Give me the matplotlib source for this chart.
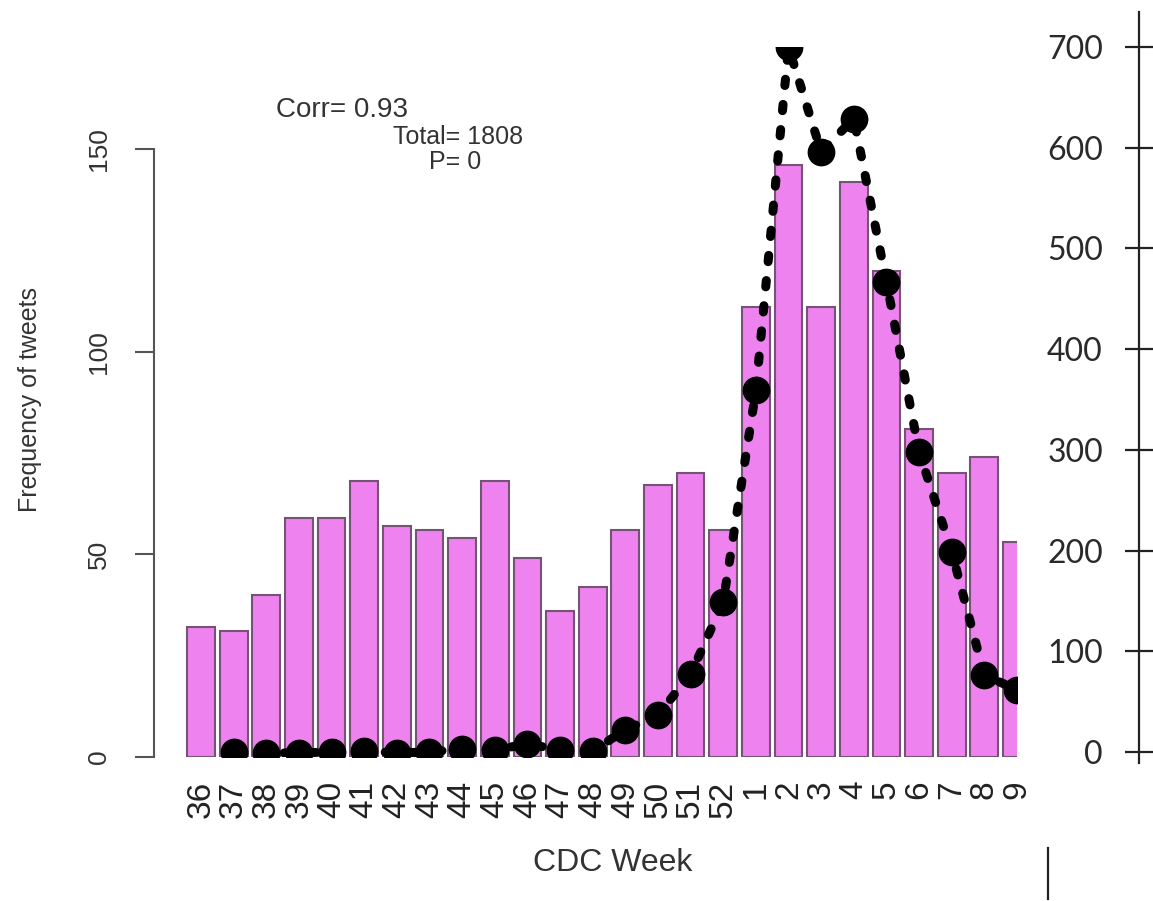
import numpy as np
import matplotlib
matplotlib.use("Agg")
import matplotlib.pyplot as plt
from matplotlib.lines import Line2D

# CDC weeks (season 36 .. 9)
weeks = ['36', '37', '38', '39', '40', '41', '42', '43', '44', '45', '46', '47', '48',
         '49', '50', '51', '52', '1', '2', '3', '4', '5', '6', '7', '8', '9']
# tweets per week (bars, left axis)
tweets = [32, 31, 40, 59, 59, 68, 57, 56, 54, 68, 49, 36, 42,
          56, 67, 70, 56, 111, 146, 111, 142, 120, 81, 70, 74, 53]
# CDC cases per week (dotted line, right axis)
cases = [np.nan, 0, -1, -1, 0, 1, -1, 0, 3, 2, 8, 2, 1,
         22, 37, 77, 149, 359, 700, 596, 629, 467, 298, 199, 76, 62]

left_ticks = [0, 50, 100, 150]
right_ticks = [0, 100, 200, 300, 400, 500, 600, 700]

W, H = 1153, 901
fig = plt.figure(figsize=(W / 100, H / 100), dpi=100)
fig.patch.set_facecolor('white')

# axes box in pixels
x0, x1, y0, y1 = 154, 1017, 757, 47
ax = fig.add_axes([x0 / W, 1 - y0 / H, (x1 - x0) / W, (y0 - y1) / H])
ax.patch.set_alpha(0)

rfont = ['Liberation Sans', 'DejaVu Sans']
idx = np.arange(len(weeks))

ax.bar(idx, tweets, width=0.85, color='#EE82EE', edgecolor='#745474', linewidth=1.5, zorder=2)
ax.set_xlim(-1.44, 24.71)
ax.set_ylim(0, 175.2)

for s in ['top', 'right', 'bottom']:
    ax.spines[s].set_visible(False)
ax.spines['left'].set_bounds(0, 150)
ax.spines['left'].set_color('#555555')
ax.spines['left'].set_linewidth(1.5)

ax.set_yticks(left_ticks)
ax.set_yticklabels([str(v) for v in left_ticks], rotation=90, va='center',
                   family=rfont, fontsize=19, color='#333333')
ax.tick_params(axis='y', length=13.7, width=1.5, color='#555555', pad=17)

ax.set_xticks(idx)
ax.set_xticklabels(weeks, rotation=90, va='top', ha='center',
                   family=rfont, fontsize=24, color='#222222')
ax.tick_params(axis='x', length=0, pad=17)

# case counts on second scale
ax2 = ax.twinx()
ax2.set_ylim(-5, 700.1)
ax2.plot(idx, cases, color='black', linewidth=6.5, linestyle=(0, (0.7, 2.1)),
         dash_capstyle='round', marker='o', markersize=19, zorder=3)
for s in ['top', 'right', 'bottom']:
    ax2.spines[s].set_visible(False)
ax2.yaxis.tick_left()
ax2.spines['left'].set_position(('axes', (1139 - x0) / (x1 - x0)))
ax2.spines['left'].set_bounds(-11, 735)
ax2.spines['left'].set_linewidth(1.6)
ax2.spines['left'].set_color('#222222')
ax2.set_yticks(right_ticks)
ax2.set_yticklabels([str(v) for v in right_ticks], family=['Lato', 'DejaVu Sans'],
                    fontsize=23, color='#2a2a2a')
ax2.tick_params(axis='y', direction='inout', length=20, width=1.6, color='#222222', pad=16)

# labels and annotations
fig.text(30 / W, 1 - 400 / H, 'Frequency of tweets', rotation=90, ha='center', va='center',
         family=rfont, fontsize=18, color='#333333')
fig.text(613 / W, 1 - 863 / H, 'CDC Week', ha='center', va='center',
         family=rfont, fontsize=23, color='#333333')
fig.text(342 / W, 1 - 117 / H, 'Corr= 0.93', ha='center', va='baseline',
         family=rfont, fontsize=20, color='#333333')
fig.text(458 / W, 1 - 144 / H, 'Total= 1808', ha='center', va='baseline',
         family=rfont, fontsize=18, color='#333333')
fig.text(455 / W, 1 - 169 / H, 'P= 0', ha='center', va='baseline',
         family=rfont, fontsize=18, color='#333333')

fig.add_artist(Line2D([1048 / W, 1048 / W], [1 - 848 / H, 1 - 899 / H], color='#222222', linewidth=1.6))

fig.savefig('out.png', dpi=100, facecolor='white')
